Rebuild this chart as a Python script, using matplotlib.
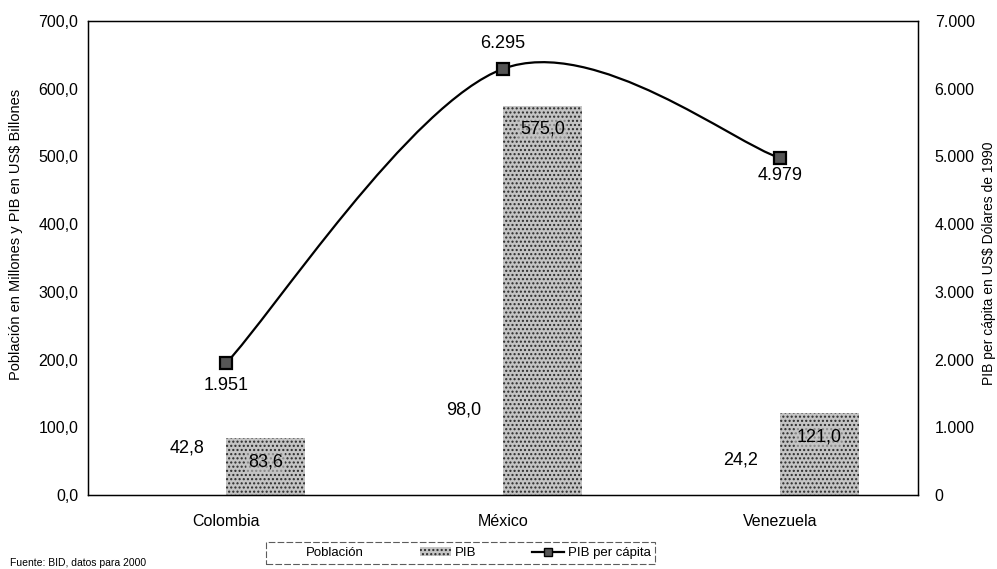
import matplotlib
matplotlib.use('Agg')
import matplotlib.pyplot as plt
from matplotlib.path import Path
from matplotlib.patches import PathPatch, Patch
from matplotlib.lines import Line2D
from matplotlib.ticker import FuncFormatter

plt.rcParams['font.family'] = ['Liberation Sans', 'DejaVu Sans']
plt.rcParams['hatch.linewidth'] = 1.0

PAISES = ['Colombia', 'México', 'Venezuela']
POBLACION = [42.8, 98.0, 24.2]
PIB = [83.6, 575.0, 121.0]
PIB_PER_CAPITA = [1951, 6295, 4979]

BAR_W = 0.285
BAR_FACE = '#c4c4c4'
BAR_DOTS = '#2a2a2a'


def fmt_decimal(v, pos=None):
    return '{:.1f}'.format(v).replace('.', ',')


def fmt_miles(v, pos=None):
    return '{:,.0f}'.format(v).replace(',', '.')


def smooth_path(xs, ys):
    # curva suavizada tipo Excel: Bezier cubica con puntos de control Catmull-Rom
    pts = list(zip(xs, ys))
    verts = [pts[0]]
    codes = [Path.MOVETO]
    n = len(pts)
    for i in range(n - 1):
        p0 = pts[i - 1] if i > 0 else pts[i]
        p1 = pts[i]
        p2 = pts[i + 1]
        p3 = pts[i + 2] if i + 2 < n else pts[i + 1]
        c1 = (p1[0] + (p2[0] - p0[0]) / 6, p1[1] + (p2[1] - p0[1]) / 6)
        c2 = (p2[0] - (p3[0] - p1[0]) / 6, p2[1] - (p3[1] - p1[1]) / 6)
        verts += [c1, c2, p2]
        codes += [Path.CURVE4] * 3
    return Path(verts, codes)


fig = plt.figure(figsize=(9.97, 5.69), dpi=100)
ax = fig.add_axes([0.0883, 0.130, 0.8325, 0.833])
x = list(range(len(PAISES)))

pob_bars = ax.bar([i - BAR_W for i in x], POBLACION, width=BAR_W, align='edge',
                  color='white', edgecolor='white', linewidth=0)
pib_bars = ax.bar(x, PIB, width=BAR_W, align='edge', color=BAR_FACE,
                  edgecolor=BAR_DOTS, linewidth=0, hatch='....')

for b, v in zip(pob_bars, POBLACION):
    ax.annotate(fmt_decimal(v), (b.get_x() + b.get_width() / 2, v), xytext=(0, 7),
                textcoords='offset points', ha='center', va='bottom', fontsize=13)
for b, v in zip(pib_bars, PIB):
    ax.annotate(fmt_decimal(v), (b.get_x() + b.get_width() / 2, v), xytext=(0, -17),
                textcoords='offset points', ha='center', va='center', fontsize=13,
                bbox=dict(boxstyle='square,pad=0.1', facecolor=BAR_FACE, edgecolor='none', alpha=0.6))

ax.set_xlim(-0.5, 2.5)
ax.set_ylim(0, 700)
ax.set_yticks([0, 100, 200, 300, 400, 500, 600, 700])
ax.yaxis.set_major_formatter(FuncFormatter(fmt_decimal))
ax.set_xticks(x)
ax.set_xticklabels(PAISES)
ax.tick_params(axis='x', length=0, pad=14, labelsize=11.5)
ax.tick_params(axis='y', length=0, pad=7, labelsize=11.5)
ax.set_ylabel('Población en Millones y PIB en US$ Billones', fontsize=10.5)
ax.yaxis.set_label_coords(-0.078, 0.55)
for s in ax.spines.values():
    s.set_linewidth(1.0)

ax2 = ax.twinx()
ax2.set_ylim(0, 7000)
ax2.set_yticks(range(0, 8000, 1000))
ax2.yaxis.set_major_formatter(FuncFormatter(fmt_miles))
ax2.tick_params(axis='y', length=0, pad=12, labelsize=11.5)
ax2.set_ylabel('PIB per cápita en US$ Dólares de 1990', fontsize=10, rotation=90)
ax2.yaxis.set_label_coords(1.077, 0.49)

ax2.add_patch(PathPatch(smooth_path(x, PIB_PER_CAPITA), facecolor='none',
                        edgecolor='black', linewidth=1.6))
ax2.plot(x, PIB_PER_CAPITA, linestyle='none', marker='s', markersize=8.5,
         markerfacecolor='#555555', markeredgecolor='black', markeredgewidth=1.6)
offsets = [-16, 18, -13]
for xi, v, dy in zip(x, PIB_PER_CAPITA, offsets):
    ax2.annotate(fmt_miles(v), (xi, v), xytext=(0, dy), textcoords='offset points',
                 ha='center', va='center', fontsize=13)

handles = [Patch(facecolor='white', edgecolor='white'),
           Patch(facecolor=BAR_FACE, edgecolor=BAR_DOTS, linewidth=0, hatch='....'),
           Line2D([], [], color='black', linewidth=1.6, marker='s', markersize=6,
                  markerfacecolor='#555555', markeredgecolor='black')]
leg = fig.legend(handles, ['Población', 'PIB', 'PIB per cápita'], loc='center',
                 bbox_to_anchor=(0.462, 0.028), ncol=3, fontsize=9.5, frameon=True,
                 fancybox=False, handlelength=2.4, handletextpad=0.3, columnspacing=4.2,
                 borderpad=0.35)
leg.get_frame().set_edgecolor('#333333')
leg.get_frame().set_linewidth(0.8)
leg.get_frame().set_linestyle((0, (6, 2)))

fig.text(0.010, 0.002, 'Fuente: BID, datos para 2000', fontsize=7.5, ha='left', va='bottom')

fig.savefig('out.png', dpi=100)
